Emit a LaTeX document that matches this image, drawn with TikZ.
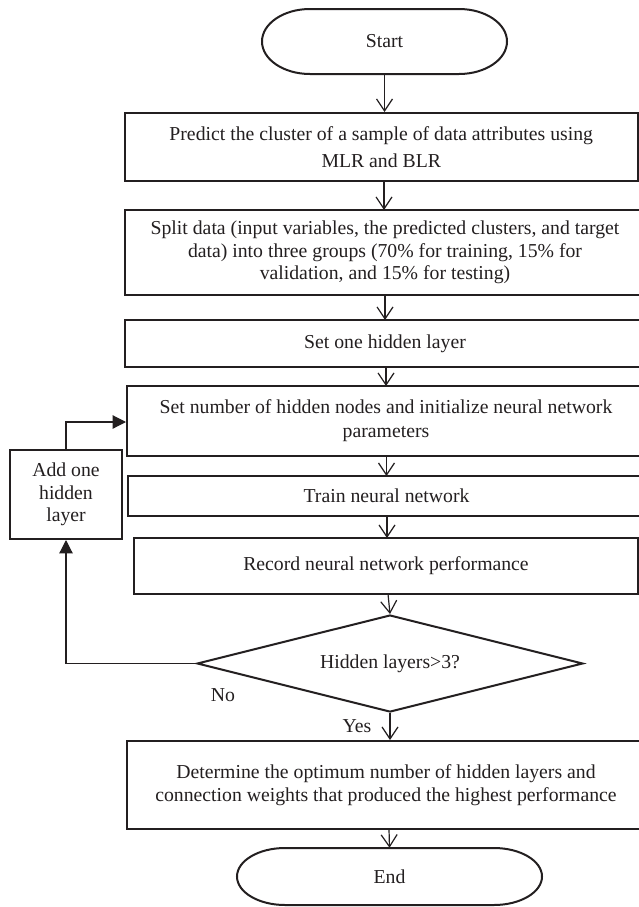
\documentclass[tikz,border=0pt]{standalone}
\usepackage{fontspec}
\setmainfont{Liberation Serif}
\usetikzlibrary{arrows.meta,shapes.geometric}
\definecolor{ink}{HTML}{231F20}
\begin{document}
\begin{tikzpicture}[x=0.75pt,y=-0.75pt,
  every node/.style={font=\fontsize{14.8pt}{17pt}\selectfont, text=ink},
  stepbox/.style={draw=ink, line width=1.5pt, rectangle, inner sep=0pt, align=center},
  flow/.style={draw=ink, line width=0.9pt, -{Straight Barb[length=9pt,width=12pt,line width=0.9pt]}},
  loop/.style={draw=ink, line width=0.9pt, -{Triangle[length=10pt,width=10pt]}},
  terminal/.style={draw=ink, line width=1.5pt}]
\clip (0,0) rectangle (639,907);
\fill[white] (0,0) rectangle (639,907);

% terminals
\node (start) at (384.5,41.5) [minimum width=183.75pt, minimum height=48.75pt] {Start};
\draw[terminal] (310,9) -- (459,9)
  .. controls (485.5,9) and (507,23.6) .. (507,41.5)
  .. controls (507,59.4) and (485.5,74) .. (459,74) -- (310,74)
  .. controls (283.5,74) and (262,59.4) .. (262,41.5)
  .. controls (262,23.6) and (283.5,9) .. (310,9) -- cycle;

\node (end) at (389.5,876.5) [minimum width=228.75pt, minimum height=42.75pt] {End};
\draw[terminal] (285,848) -- (494,848)
  .. controls (520.5,848) and (542,860.8) .. (542,876.5)
  .. controls (542,892.2) and (520.5,905) .. (494,905) -- (285,905)
  .. controls (258.5,905) and (237,892.2) .. (237,876.5)
  .. controls (237,860.8) and (258.5,848) .. (285,848) -- cycle;

% process boxes
\node[stepbox, minimum width=384.4pt, minimum height=51pt,
      font=\fontsize{14.8pt}{20pt}\selectfont] (predict) at (381.25,147)
  {Predict the cluster of a sample of data attributes using\\MLR and BLR};
\node[stepbox, minimum width=390pt, minimum height=63.75pt] (split) at (385,252.5)
  {Split data (input variables, the predicted clusters, and target\\
   data) into three groups (70\% for training, 15\% for\\
   validation, and 15\% for testing)};
\node[stepbox, minimum width=390pt, minimum height=35.25pt] (onelayer) at (385,343.5)
  {Set one hidden layer};
\node[stepbox, minimum width=388.5pt, minimum height=52.5pt,
      font=\fontsize{14.8pt}{18pt}\selectfont] (setnodes) at (386,421)
  {Set number of hidden nodes and initialize neural network\\parameters};
\node[stepbox, minimum width=387.75pt, minimum height=30pt] (train) at (386.5,496)
  {Train neural network};
\node[stepbox, minimum width=378pt, minimum height=42pt] (record) at (386,566)
  {Record neural network performance};
\node[draw=ink, line width=1.5pt, diamond, shape aspect=4, inner sep=0pt,
      minimum width=289.5pt, minimum height=72.75pt] (check) at (390,663.5)
  {Hidden layers>3?};
\node[stepbox, minimum width=388.5pt, minimum height=66pt] (optimum) at (386,785)
  {Determine the optimum number of hidden layers and\\
   connection weights that produced the highest performance};
\node[stepbox, minimum width=84pt, minimum height=66.75pt] (addlayer) at (66,494.5)
  {Add one\\hidden\\layer};

% main flow
\draw[flow] (start.south) -- (start.south |- predict.north);
\draw[flow] (384,181) -- (384,210);
\draw[flow] (385,295) -- (385,320);
\draw[flow] (386,367) -- (386,386);
\draw[flow] (386.5,456) -- (386.5,476);
\draw[flow] (387,516) -- (387,538);
\draw[flow] (388,594) -- (check.north);
\draw[flow] (check.south) -- (check.south |- optimum.north);
\draw[flow] (389,829) -- (end.north);

% loop back
\coordinate (turn) at (66,663.5);
\coordinate (rise) at (66,422);
\draw[loop] (check.west) -- (turn) -- (addlayer.south);
\draw[loop] (addlayer.north) -- (rise) -- (rise -| setnodes.west);

% branch labels
\node at (223,695) {No};
\node at (357,726) {Yes};
\end{tikzpicture}
\end{document}
